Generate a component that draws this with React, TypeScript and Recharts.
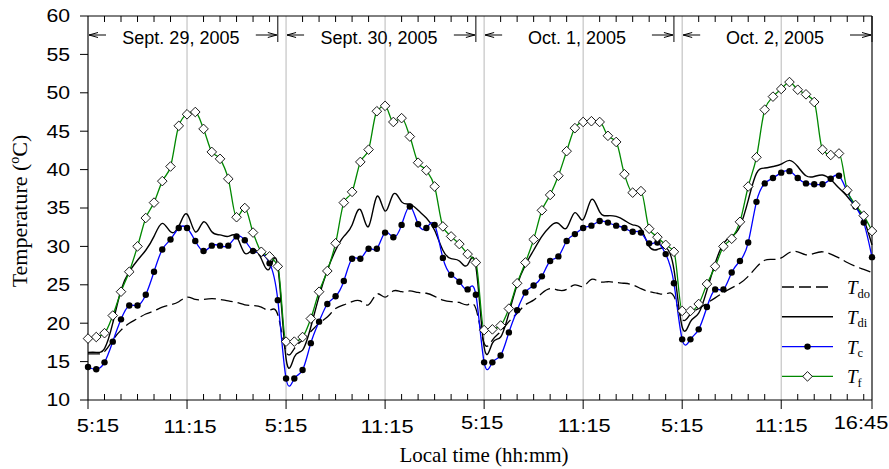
import { LineChart, Line, XAxis, YAxis, CartesianGrid, ReferenceLine, ReferenceArea, Legend } from "recharts"

// half-hourly readings, 5:15 .. 16:45 for each of the four days (24 per day)
const tdo = [
  16.0, 16.0, 16.3, 17.8, 19.1, 20.0, 20.6, 21.2, 21.6, 22.1, 22.4, 22.8, 23.4, 23.1, 23.1, 23.2, 23.1, 22.9, 22.7, 22.4, 22.3, 22.1, 21.7, 21.1,
  16.3, 16.7, 17.8, 18.9, 20.0, 20.8, 21.9, 22.4, 22.8, 22.9, 22.4, 23.8, 23.4, 24.2, 24.1, 24.2, 24.0, 23.9, 23.5, 23.0, 22.8, 22.7, 22.4, 21.9,
  17.4, 17.8, 18.9, 20.2, 21.3, 22.4, 23.0, 23.9, 24.5, 24.3, 24.4, 25.0, 24.8, 25.7, 25.4, 25.4, 25.3, 25.2, 25.0, 24.5, 24.1, 23.9, 23.8, 23.5,
  20.5, 21.2, 21.9, 22.6, 23.3, 24.0, 24.6, 25.2, 26.1, 27.3, 28.2, 28.3, 28.5, 29.2, 29.3, 28.9, 29.1, 29.3, 29.0, 28.5, 27.9, 27.4, 27.0, 26.6,
]
const tdi = [
  16.2, 16.2, 16.7, 20.0, 24.3, 26.7, 28.2, 29.5, 31.3, 33.0, 31.9, 32.6, 34.2, 31.9, 33.2, 31.9, 31.5, 31.3, 31.3, 29.1, 29.6, 28.4, 27.1, 27.4,
  15.4, 15.6, 16.5, 19.5, 23.5, 26.9, 29.5, 31.3, 32.8, 34.8, 32.6, 36.5, 34.6, 36.8, 35.8, 35.5, 34.7, 33.7, 32.1, 29.5, 28.4, 28.1, 27.6, 27.4,
  16.9, 17.4, 18.2, 21.3, 25.0, 27.6, 29.5, 31.3, 32.6, 33.0, 32.4, 34.4, 33.5, 36.1, 34.5, 34.0, 33.9, 33.4, 32.8, 32.3, 30.0, 29.6, 29.8, 27.0,
  19.5, 20.2, 21.3, 24.3, 27.8, 30.4, 31.3, 32.6, 36.0, 39.5, 40.2, 40.4, 40.7, 41.2, 40.4, 39.2, 39.1, 39.3, 38.7, 37.6, 36.5, 35.2, 33.5, 30.2,
]
const tc = [
  14.3, 14.0, 14.9, 17.6, 20.5, 22.3, 22.3, 23.7, 26.7, 29.6, 30.9, 32.4, 32.4, 30.7, 29.4, 30.1, 30.1, 30.1, 31.3, 30.8, 29.4, 29.1, 27.8, 23.0,
  12.8, 12.8, 13.9, 17.4, 20.2, 22.5, 23.5, 25.5, 28.4, 28.4, 29.7, 29.7, 31.8, 31.2, 32.8, 35.2, 32.9, 32.4, 32.8, 28.5, 26.3, 25.4, 24.4, 23.7,
  14.9, 14.9, 15.8, 18.8, 21.7, 24.0, 24.9, 26.1, 28.1, 28.7, 30.7, 31.6, 32.4, 32.7, 33.3, 33.1, 32.7, 32.4, 31.9, 31.8, 30.4, 30.5, 29.0, 25.2,
  17.9, 17.9, 19.2, 22.1, 24.4, 24.4, 26.6, 28.1, 30.5, 35.8, 38.2, 38.9, 39.6, 39.8, 38.9, 38.2, 38.1, 38.1, 38.8, 39.2, 37.1, 35.2, 33.1, 28.6,
]
const tf = [
  18.0, 18.2, 18.7, 21.0, 24.1, 26.7, 30.0, 33.7, 35.7, 38.5, 40.4, 45.7, 47.2, 47.5, 45.3, 42.3, 41.4, 38.8, 33.8, 35.0, 31.8, 29.3, 28.7, 27.4,
  17.6, 17.6, 18.2, 20.6, 24.1, 26.8, 30.4, 35.7, 37.1, 41.0, 42.6, 47.6, 48.3, 46.2, 46.7, 44.3, 40.9, 39.9, 37.8, 32.6, 31.3, 30.3, 29.0, 27.9,
  19.1, 19.2, 19.7, 21.9, 25.2, 27.9, 30.9, 34.7, 36.7, 39.2, 42.4, 45.4, 46.2, 46.3, 46.2, 44.4, 43.6, 39.4, 37.0, 37.2, 32.3, 31.2, 30.2, 29.3,
  21.6, 21.6, 22.5, 25.1, 27.4, 30.0, 31.0, 33.2, 37.8, 41.6, 47.8, 49.5, 50.5, 51.4, 50.4, 49.8, 48.8, 42.6, 41.9, 42.1, 37.3, 35.4, 34.0, 32.0,
]

const days = ["Sept. 29, 2005", "Sept. 30, 2005", "Oct. 1, 2005", "Oct. 2, 2005"]
const xTicks = [0, 6, 12, 18, 24, 30, 36, 42, 47.5]
const xTickLabels = ["5:15", "11:15", "5:15", "11:15", "5:15", "11:15", "5:15", "11:15", "16:45"]
const yTicks = [10, 15, 20, 25, 30, 35, 40, 45, 50, 55, 60]

const PER_DAY = 24
const DAY_HOURS = 12
const data = tc.map((_, i) => ({
  t: Math.floor(i / PER_DAY) * DAY_HOURS + (i % PER_DAY) * 0.5,
  tdo: tdo[i],
  tdi: tdi[i],
  tc: tc[i],
  tf: tf[i],
}))
// hourly minor ticks (inside the frame, top and bottom)
const hourTicks = Array.from({ length: 47 }, (_, h) => h + 1).filter((h) => h % 6 !== 0)
const MINOR = 0.78 // tick length in °C units (~6px)

const SANS = '"Liberation Sans", Arial, sans-serif'
const SERIF = '"Liberation Serif", "Times New Roman", serif'
const STRETCH = "scale(1.18,1)"
// small label nudges [dx, dy] as in the original figure
const xTickNudge = [[10, 0], [3, 1], [0, 0], [2, 1], [-2, -3], [1, 0], [0, 0], [0, 0], [-11, -3]]

const Diamond = (props: any) => {
  const { cx, cy } = props
  if (cx == null || cy == null) return null
  return (
    <path
      d={`M${cx},${cy - 4.8}L${cx + 4.8},${cy}L${cx},${cy + 4.8}L${cx - 4.8},${cy}Z`}
      fill="#fff"
      stroke="#000"
      strokeWidth={0.9}
    />
  )
}

const series = [
  { key: "tdo", sub: "do", color: "#000", dash: "12 5", marker: "" },
  { key: "tdi", sub: "di", color: "#000", dash: undefined, marker: "" },
  { key: "tc", sub: "c", color: "#0000ff", dash: undefined, marker: "dot" },
  { key: "tf", sub: "f", color: "#008800", dash: undefined, marker: "diamond" },
]

const XTick = (props: any) => {
  const { x, y, payload } = props
  const i = xTicks.indexOf(payload.value)
  const [dx, dy] = xTickNudge[i] ?? [0, 0]
  return (
    <g transform={`translate(${x + dx},${y + dy})`}>
      <text transform={STRETCH} textAnchor="middle" dy="0.71em" fontSize={18.5} fontFamily={SANS} fill="#000">
        {xTickLabels[i]}
      </text>
    </g>
  )
}

const YTick = (props: any) => {
  const { x, y, payload } = props
  return (
    <g transform={`translate(${x},${y})`}>
      <text transform={STRETCH} textAnchor="end" dy="0.355em" fontSize={18} fontFamily={SANS} fill="#000">
        {payload.value}
      </text>
    </g>
  )
}

const YTitle = (props: any) => {
  const { viewBox } = props
  const x = viewBox.x + 27
  const y = viewBox.y + viewBox.height / 2 + 3
  return (
    <text transform={`rotate(-90,${x},${y})`} x={x} y={y} textAnchor="middle" fontSize={22} fontFamily={SERIF} fill="#000">
      Temperature (<tspan fontSize={14} dy={-8}>o</tspan>
      <tspan dy={8}>C)</tspan>
    </text>
  )
}

const XTitle = (props: any) => {
  const { viewBox } = props
  return (
    <text x={viewBox.x + viewBox.width / 2 + 4} y={viewBox.y + 62} textAnchor="middle" fontSize={21} fontFamily={SERIF} fill="#000">
      Local time (hh:mm)
    </text>
  )
}

const DayLabel = (props: any) => {
  const { viewBox, text } = props
  const { x, y, width } = viewBox
  const ay = y + 19
  const x1 = x + width
  return (
    <g stroke="#000" strokeWidth={1} fill="none">
      <line x1={x + 1} y1={ay} x2={x + 18} y2={ay} />
      <path d={`M${x + 10},${ay - 2.5}L${x + 1},${ay}L${x + 10},${ay + 2.5}`} />
      <line x1={x1 - 22} y1={ay} x2={x1 - 1} y2={ay} />
      <path d={`M${x1 - 10},${ay - 2.5}L${x1 - 1},${ay}L${x1 - 10},${ay + 2.5}`} />
      <line x1={x1} y1={y} x2={x1} y2={y + 26} />
      <text x={x + width / 2 - 2} y={y + 28} textAnchor="middle" fontSize={18} fontFamily={SANS} fill="#000" stroke="none">
        {text}
      </text>
    </g>
  )
}

const LegendBox = () => (
  <svg width={112} height={118}>
    {series.map((s, i) => {
      const cy = 15 + i * 29.8
      return (
        <g key={s.key}>
          <line x1={7} x2={58} y1={cy} y2={cy} stroke={s.color} strokeWidth={1.4} strokeDasharray={s.dash} />
          {s.marker === "dot" && <circle cx={32.5} cy={cy} r={3.2} fill="#000" />}
          {s.marker === "diamond" && <Diamond cx={32.5} cy={cy} />}
          <text x={72} y={cy + 7} fontFamily={SERIF} fontSize={19} fontStyle="italic" fill="#000">
            T
            <tspan fontStyle="normal" fontSize={12.5} dy={3.5}>
              {s.sub}
            </tspan>
          </text>
        </g>
      )
    })}
  </svg>
)

export default function App() {
  return (
    <div style={{ position: "absolute", left: 0, top: 0, width: 889, height: 469, background: "#fff" }}>
      <LineChart width={889} height={469} data={data} margin={{ top: 16, right: 17, bottom: 0, left: 0 }}>
        <CartesianGrid horizontal={false} stroke="#c4c4c4" strokeWidth={1.2} />
        <XAxis
          dataKey="t"
          type="number"
          domain={[0, 47.5]}
          ticks={xTicks}
          interval={0}
          height={69}
          tickSize={9}
          tickMargin={10}
          axisLine={{ stroke: "#000" }}
          tickLine={{ stroke: "#000" }}
          tick={<XTick />}
          label={XTitle}
        />
        <YAxis
          domain={[10, 60]}
          ticks={yTicks}
          interval={0}
          width={88}
          tickSize={8}
          tickMargin={10}
          axisLine={{ stroke: "#000" }}
          tickLine={{ stroke: "#000" }}
          tick={<YTick />}
          label={YTitle}
        />
        <ReferenceLine x={47.5} stroke="#000" strokeWidth={1} />
        <ReferenceLine y={60} stroke="#000" strokeWidth={1} />
        {hourTicks.map((h) => (
          <ReferenceLine key={`b${h}`} segment={[{ x: h, y: 10 }, { x: h, y: 10 + MINOR }]} stroke="#000" strokeWidth={1} />
        ))}
        {hourTicks.map((h) => (
          <ReferenceLine key={`t${h}`} segment={[{ x: h, y: 60 - MINOR }, { x: h, y: 60 }]} stroke="#000" strokeWidth={1} />
        ))}
        {days.map((d, i) => (
          <ReferenceArea
            key={d}
            x1={i * DAY_HOURS}
            x2={i * DAY_HOURS + 11.5}
            y1={56}
            y2={60}
            fill="none"
            strokeWidth={0}
            label={(p: any) => <DayLabel {...p} text={d} />}
          />
        ))}
        <Line dataKey="tdo" type="natural" stroke="#000" strokeWidth={1.3} strokeDasharray="12 5" dot={false} activeDot={false} isAnimationActive={false} />
        <Line dataKey="tdi" type="natural" stroke="#000" strokeWidth={1.4} dot={false} activeDot={false} isAnimationActive={false} />
        <Line
          dataKey="tc"
          type="natural"
          stroke="#0000ff"
          strokeWidth={1.3}
          dot={{ r: 3.2, fill: "#000", stroke: "#000", strokeWidth: 0 }}
          activeDot={false}
          isAnimationActive={false}
        />
        <Line dataKey="tf" type="monotone" stroke="#008800" strokeWidth={1.3} dot={<Diamond />} activeDot={false} isAnimationActive={false} />
        <Legend
          layout="vertical"
          align="center"
          verticalAlign="middle"
          content={LegendBox}
          wrapperStyle={{ left: 775, top: 272, width: 112 }}
        />
      </LineChart>
    </div>
  )
}
